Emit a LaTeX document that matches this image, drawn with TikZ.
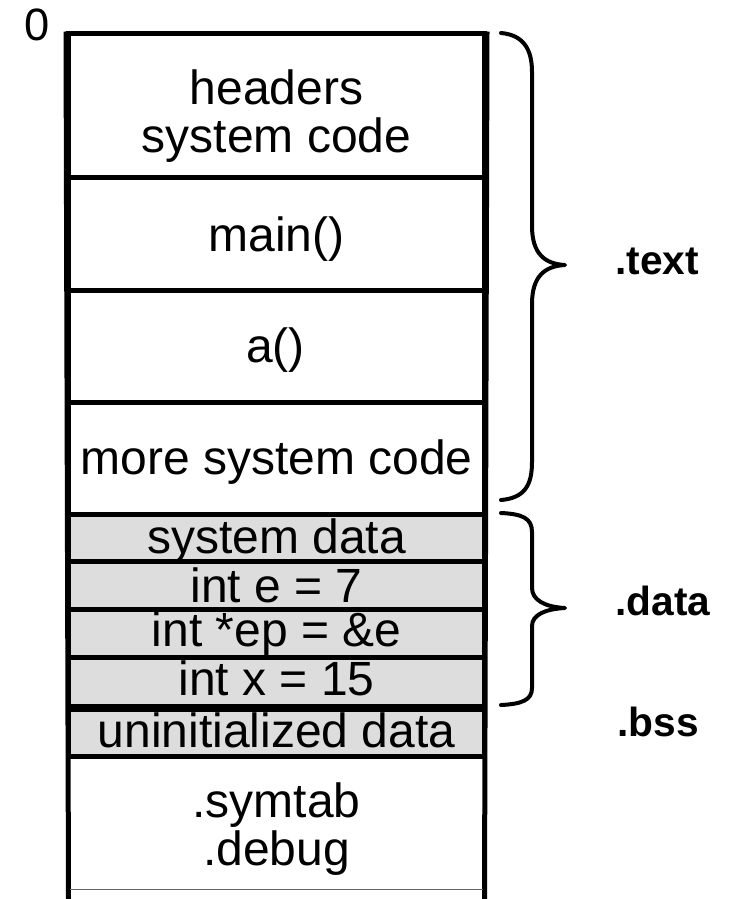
\documentclass[tikz,border=0pt]{standalone}
\usepackage{fontspec}
\setmainfont{Liberation Sans}
\definecolor{segfill}{HTML}{DDDDDD}
\begin{document}
\begin{tikzpicture}[x=0.75pt,y=-0.75pt,
  seg/.style={draw=black, line width=3.75pt, minimum width=312pt, inner sep=0pt, rectangle},
  dseg/.style={seg, fill=segfill},
  lbl/.style={font=\fontsize{36}{42}\selectfont, inner sep=0pt, anchor=base},
  sect/.style={font=\fontsize{30.5}{36}\selectfont\bfseries, inner sep=0pt, anchor=base west},
  bracepath/.style={draw=black, line width=3pt, line cap=round, line join=round}]
\useasboundingbox (0,0) rectangle (730,899);
% segments
\node[seg,  minimum height=107.625pt] (s1) at (276.5,105.75) {};
\node[seg,  minimum height=84.375pt]  (s2) at (276.5,233.75) {};
\node[seg,  minimum height=84pt]      (s3) at (276.5,346) {};
\node[seg,  minimum height=84pt]      (s4) at (276.5,458) {};
\node[dseg, minimum height=35.25pt]   (s5) at (276.5,537.5) {};
\node[dseg, minimum height=36.375pt]  (s6) at (276.5,585.25) {};
\node[dseg, minimum height=35.625pt]  (s7) at (276.5,633.25) {};
\node[dseg, minimum height=36.75pt]   (s8) at (276.5,681.5) {};
\node[dseg, minimum height=37.5pt]    (s9) at (276.5,731) {};
% thicker border between .data and .bss
\draw[line width=5.25pt] (s8.south west) -- (s8.south east);
% open bottom part
\coordinate (bl) at (68.5,899);
\coordinate (br) at (484.5,899);
\draw[line width=3.75pt] (s1.north west) -- (bl);
\draw[line width=3.75pt] (s1.north east) -- (br);
\coordinate (gl) at (70,889);
\coordinate (gr) at (483,889);
\draw[black!60, line width=0.75pt] (gl) -- (gr);
% texts
\node[lbl] (t1a) at (276.5,104) {headers};
\node[lbl] (t1b) at (276.5,152) {system code};
\node[lbl] (t2) at (276.5,251) {main()};
\node[lbl] (t3) at (275.5,362) {a()};
\node[lbl] (t4) at (276.5,474) {more system code};
\node[lbl] (t5) at (276.5,553) {system data};
\node[lbl] (t6) at (276.5,602) {int e = 7};
\node[lbl] (t7) at (276.5,646) {int *ep = \&e};
\node[lbl] (t8) at (276.5,695) {int x = 15};
\node[lbl] (t9) at (276.5,747) {uninitialized data};
\node[lbl] (t10a) at (276.5,817) {.symtab};
\node[lbl] (t10b) at (276.5,865) {.debug};
\node[font=\fontsize{34}{40}\selectfont, inner sep=0pt, anchor=base] (zero) at (37,41) {0};
% braces
\draw[bracepath] (501,33) .. controls (524,35) and (532,50) .. (532,72)
  -- (532,226) .. controls (532,254) and (545,264) .. (565,265)
  .. controls (545,266) and (532,276) .. (532,304)
  -- (532,462) .. controls (532,486) and (524,498) .. (501,500);
\draw[bracepath] (501,513) .. controls (522,514) and (532,518) .. (532,532)
  -- (532,588) .. controls (532,600) and (545,607) .. (565,608)
  .. controls (545,609) and (532,615) .. (532,626)
  -- (532,688) .. controls (532,700) and (522,704) .. (501,705);
% section labels
\node[sect] (ltext) at (615,274) {.text};
\node[sect] (ldata) at (615,615) {.data};
\node[sect] (lbss) at (617,736) {.bss};
\end{tikzpicture}
\end{document}
